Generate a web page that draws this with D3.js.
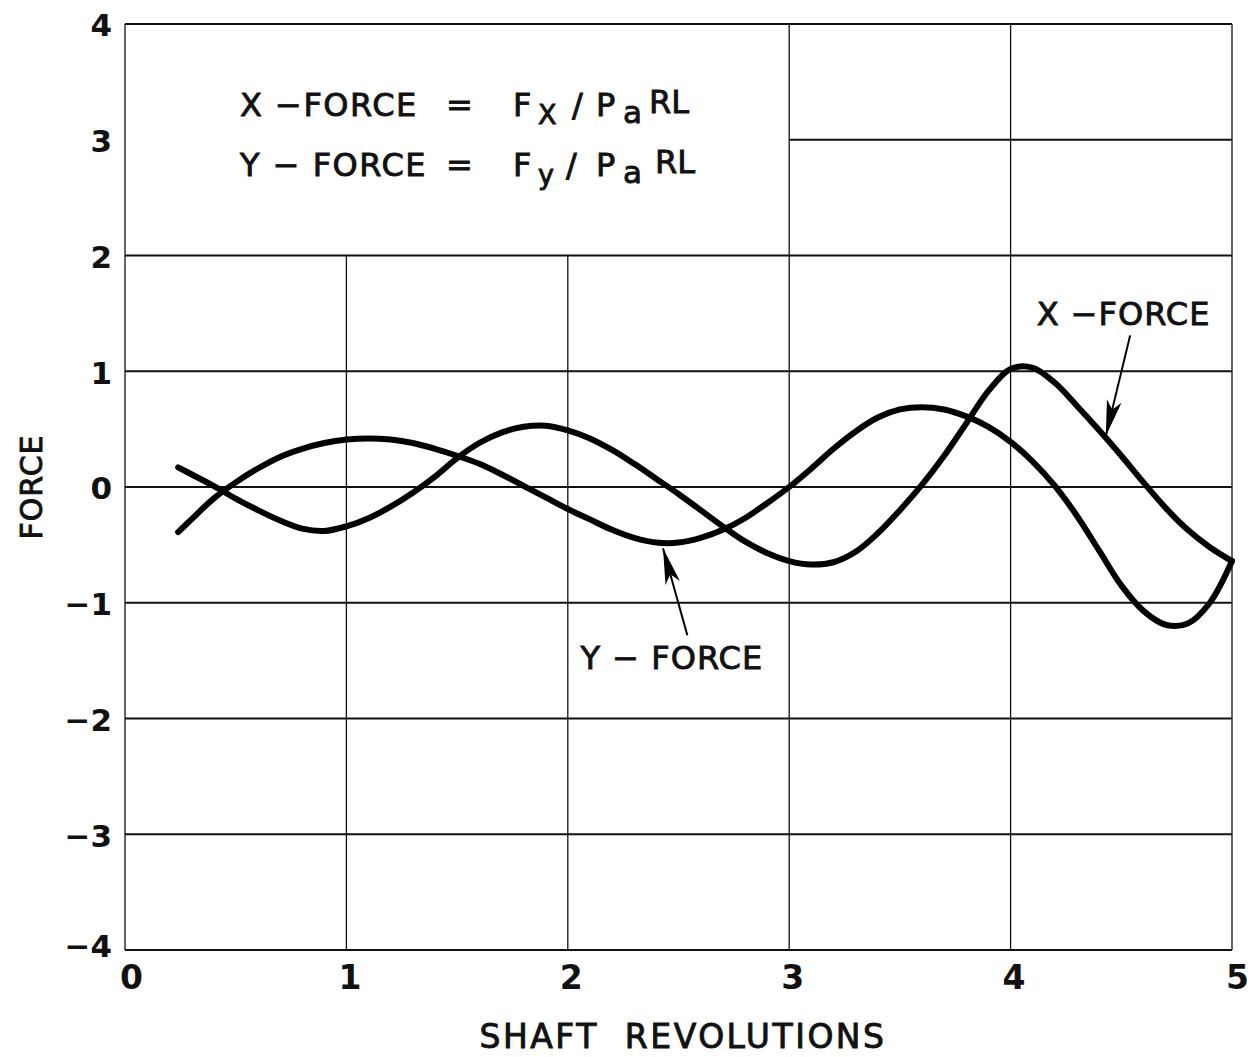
<!DOCTYPE html>
<html>
<head>
<meta charset="utf-8">
<script src="https://cdn.jsdelivr.net/npm/d3@7"></script>
<style>
  html, body { margin: 0; padding: 0; background: #fff; }
  svg { display: block; }
  text { font-family: "DejaVu Sans", "Liberation Sans", sans-serif; fill: #111; }
  .lettering { stroke: #111; stroke-width: 0.9px; }
</style>
</head>
<body>
<svg id="chart" width="1255" height="1057"></svg>
<script>
// Shaft revolutions at which both forces were read
const revolutions = [0.24, 0.3, 0.4, 0.5, 0.6, 0.7, 0.8, 0.9, 1.0, 1.1, 1.2, 1.3, 1.4, 1.5, 1.6, 1.7, 1.8, 1.9,
  2.0, 2.1, 2.2, 2.3, 2.4, 2.5, 2.6, 2.7, 2.8, 2.9, 3.0, 3.1, 3.2, 3.3, 3.4, 3.5, 3.6, 3.7, 3.8, 3.9,
  4.0, 4.1, 4.2, 4.3, 4.4, 4.5, 4.6, 4.7, 4.8, 4.9, 5.0];

// X-FORCE = Fx / Pa R L
const xForce = [0.17, 0.11, 0.01, -0.1, -0.2, -0.29, -0.36, -0.38, -0.34, -0.27, -0.17, -0.05, 0.09, 0.25, 0.38, 0.47, 0.52, 0.53,
  0.49, 0.42, 0.32, 0.2, 0.07, -0.06, -0.2, -0.34, -0.47, -0.57, -0.64, -0.67, -0.65, -0.56, -0.4, -0.2, 0.02, 0.27, 0.55, 0.83,
  1.02, 1.03, 0.9, 0.7, 0.49, 0.27, 0.04, -0.18, -0.37, -0.52, -0.64];

// Y-FORCE = Fy / Pa R L
const yForce = [-0.39, -0.28, -0.1, 0.04, 0.16, 0.26, 0.33, 0.38, 0.41, 0.42, 0.41, 0.38, 0.33, 0.27, 0.2, 0.11, 0.01, -0.09,
  -0.19, -0.28, -0.37, -0.44, -0.48, -0.48, -0.44, -0.37, -0.27, -0.14, 0.0, 0.16, 0.33, 0.48, 0.6, 0.67, 0.69, 0.67, 0.61, 0.52,
  0.39, 0.22, 0.01, -0.25, -0.55, -0.85, -1.07, -1.19, -1.18, -1.0, -0.64];

const xTicks = [0, 1, 2, 3, 4, 5];
const yTicks = [4, 3, 2, 1, 0, -1, -2, -3, -4];

// Curve labels: text position, arrow tail and arrow tip (data units)
const curveLabels = [
  { text: "X \u2212FORCE", at: [4.51, 1.5], tail: [4.54, 1.31], tip: [4.43, 0.44] },
  { text: "Y \u2212 FORCE", at: [2.47, -1.47], tail: [2.54, -1.28], tip: [2.43, -0.53] }
];

const svg = d3.select("#chart");
const x = d3.scaleLinear().domain([0, 5]).range([125, 1232]);
const y = d3.scaleLinear().domain([-4, 4]).range([950, 24]);

// Grid: the upper-left block (0..3, 2..4) is left open for the definitions
const grid = svg.append("g").attr("stroke", "#111").attr("fill", "none");
xTicks.forEach(v => {
  const top = (v === 1 || v === 2) ? 2 : 4;
  grid.append("line")
    .attr("x1", x(v)).attr("x2", x(v))
    .attr("y1", y(top)).attr("y2", y(-4))
    .attr("stroke-width", 1.3);
});
yTicks.forEach(v => {
  const left = (v === 3) ? 3 : 0;
  grid.append("line")
    .attr("x1", x(left)).attr("x2", x(5))
    .attr("y1", y(v)).attr("y2", y(v))
    .attr("stroke-width", 2);
});

// Tick labels through d3 axes (no tick marks, no domain line)
const xAxis = svg.append("g")
  .attr("transform", `translate(0,${y(-4)})`)
  .call(d3.axisBottom(x).tickValues(xTicks).tickSize(0).tickPadding(8).tickFormat(d3.format("d")));
xAxis.select(".domain").remove();
xAxis.selectAll("text")
  .attr("dy", "0.95em")
  .attr("dx", (d) => d === 0 ? 6 : (d === 5 ? 5 : 3))
  .style("font-size", "33px").style("font-weight", "bold")
  .style("font-family", "'DejaVu Sans', sans-serif");

const yAxis = svg.append("g")
  .attr("transform", `translate(${x(0)},0)`)
  .call(d3.axisLeft(y).tickValues(yTicks).tickSize(0).tickPadding(13)
    .tickFormat(d => d < 0 ? "\u2212" + Math.abs(d) : String(d)));
yAxis.select(".domain").remove();
yAxis.selectAll("text")
  .attr("dy", (d) => d === -4 ? "0.2em" : "0.38em")
  .style("font-size", "31px").style("font-weight", "bold")
  .style("font-family", "'DejaVu Sans', sans-serif");

svg.append("text")
  .attr("class", "lettering")
  .attr("x", 683).attr("y", 1048)
  .attr("text-anchor", "middle")
  .style("font-size", "33px").style("letter-spacing", "2.5px")
  .attr("xml:space", "preserve")
  .text("SHAFT  REVOLUTIONS");

svg.append("text")
  .attr("class", "lettering")
  .attr("transform", `translate(42,${y(0)}) rotate(-90)`)
  .attr("text-anchor", "middle")
  .style("font-size", "30px").style("letter-spacing", "1px")
  .text("FORCE");

// Definitions block
const defs = [
  { lead: "X \u2212FORCE", sub: "X", base: 116, slash: 572, rl: 649 },
  { lead: "Y \u2212 FORCE", sub: "y", base: 176, slash: 566, rl: 655 }
];
defs.forEach(d => {
  const t = svg.append("text").attr("class", "lettering")
    .attr("y", d.base).style("font-size", "32px").attr("xml:space", "preserve");
  t.append("tspan").attr("x", 240).style("letter-spacing", "1.5px").text(d.lead);
  t.append("tspan").attr("x", 446).text("=");
  t.append("tspan").attr("x", 513).text("F");
  t.append("tspan").attr("x", 538).attr("y", d.base + 8).style("font-size", "27px").text(d.sub);
  t.append("tspan").attr("x", d.slash).attr("y", d.base).text("/");
  t.append("tspan").attr("x", 596).attr("y", d.base).text("P");
  t.append("tspan").attr("x", 623).attr("y", d.base + 7).style("font-size", "31px").text("a");
  t.append("tspan").attr("x", d.rl).attr("y", d.base - 3).text("RL");
});

// Force curves
const line = d3.line()
  .x(d => x(d[0])).y(d => y(d[1]))
  .curve(d3.curveCatmullRom.alpha(0.5));

const series = [
  d3.zip(revolutions, xForce),
  d3.zip(revolutions, yForce)
];
svg.append("g").selectAll("path").data(series).join("path")
  .attr("d", line)
  .attr("fill", "none")
  .attr("stroke", "#000")
  .attr("stroke-width", 6)
  .attr("stroke-linecap", "round")
  .attr("stroke-linejoin", "round");

// Curve labels with arrows
curveLabels.forEach(c => {
  svg.append("text")
    .attr("class", "lettering")
    .attr("x", x(c.at[0])).attr("y", y(c.at[1]))
    .attr("text-anchor", "middle").attr("dy", "0.36em")
    .style("font-size", "32px").style("letter-spacing", "1px").attr("xml:space", "preserve")
    .text(c.text);
  const x1 = x(c.tail[0]), y1 = y(c.tail[1]);
  const x2 = x(c.tip[0]), y2 = y(c.tip[1]);
  svg.append("line")
    .attr("x1", x1).attr("y1", y1).attr("x2", x2).attr("y2", y2)
    .attr("stroke", "#000").attr("stroke-width", 2);
  const ang = Math.atan2(y2 - y1, x2 - x1);
  const len = 36, half = 7.5;
  const bx = x2 - len * Math.cos(ang), by = y2 - len * Math.sin(ang);
  const px = -Math.sin(ang) * half, py = Math.cos(ang) * half;
  svg.append("path")
    .attr("d", `M${x2},${y2}L${bx + px},${by + py}L${bx + 0.25 * (x2 - bx)},${by + 0.25 * (y2 - by)}L${bx - px},${by - py}Z`)
    .attr("fill", "#000");
});
</script>
</body>
</html>
